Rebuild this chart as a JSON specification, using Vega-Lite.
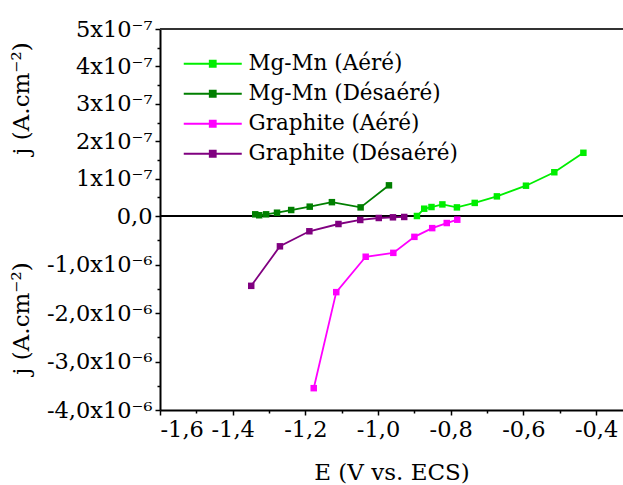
{
  "$schema": "https://vega.github.io/schema/vega-lite/v6.json",
  "autosize": {"type": "pad"},
  "padding": {"left": 10, "top": 18, "right": 0, "bottom": 0},
  "spacing": 0,
  "bounds": "flush",
  "config": {
    "font": "DejaVu Serif",
    "view": {"stroke": null},
    "axis": {
      "labelFont": "DejaVu Serif", "titleFont": "DejaVu Serif",
      "labelFontSize": 22.5, "titleFontSize": 23, "titleFontWeight": "normal",
      "labelColor": "black", "titleColor": "black",
      "domainColor": "black", "tickColor": "black",
      "domainWidth": 2, "tickWidth": 1.5, "tickSize": 5, "grid": false
    },
    "legend": {
      "labelFont": "DejaVu Serif", "labelFontSize": 21.5, "labelColor": "black", "labelLimit": 0
    }
  },
  "datasets": {
    "d": [
      {"s": "Mg-Mn (Désaéré)", "E": -1.338, "j": 4.5e-9},
      {"s": "Mg-Mn (Désaéré)", "E": -1.327, "j": 2e-9},
      {"s": "Mg-Mn (Désaéré)", "E": -1.308, "j": 4.5e-9},
      {"s": "Mg-Mn (Désaéré)", "E": -1.278, "j": 8.8e-9},
      {"s": "Mg-Mn (Désaéré)", "E": -1.239, "j": 1.6e-8},
      {"s": "Mg-Mn (Désaéré)", "E": -1.188, "j": 2.5e-8},
      {"s": "Mg-Mn (Désaéré)", "E": -1.127, "j": 3.7e-8},
      {"s": "Mg-Mn (Désaéré)", "E": -1.048, "j": 2.3e-8},
      {"s": "Mg-Mn (Désaéré)", "E": -0.970, "j": 8.2e-8},
      {"s": "Mg-Mn (Aéré)", "E": -0.893, "j": 0},
      {"s": "Mg-Mn (Aéré)", "E": -0.873, "j": 1.95e-8},
      {"s": "Mg-Mn (Aéré)", "E": -0.853, "j": 2.4e-8},
      {"s": "Mg-Mn (Aéré)", "E": -0.823, "j": 3.1e-8},
      {"s": "Mg-Mn (Aéré)", "E": -0.783, "j": 2.3e-8},
      {"s": "Mg-Mn (Aéré)", "E": -0.734, "j": 3.5e-8},
      {"s": "Mg-Mn (Aéré)", "E": -0.673, "j": 5.25e-8},
      {"s": "Mg-Mn (Aéré)", "E": -0.593, "j": 8.1e-8},
      {"s": "Mg-Mn (Aéré)", "E": -0.515, "j": 1.17e-7},
      {"s": "Mg-Mn (Aéré)", "E": -0.435, "j": 1.69e-7},
      {"s": "Graphite (Aéré)", "E": -1.177, "j": -3.55e-6},
      {"s": "Graphite (Aéré)", "E": -1.115, "j": -1.57e-6},
      {"s": "Graphite (Aéré)", "E": -1.034, "j": -8.4e-7},
      {"s": "Graphite (Aéré)", "E": -0.958, "j": -7.6e-7},
      {"s": "Graphite (Aéré)", "E": -0.900, "j": -4.3e-7},
      {"s": "Graphite (Aéré)", "E": -0.851, "j": -2.5e-7},
      {"s": "Graphite (Aéré)", "E": -0.811, "j": -1.45e-7},
      {"s": "Graphite (Aéré)", "E": -0.782, "j": -7.6e-8},
      {"s": "Graphite (Désaéré)", "E": -1.349, "j": -1.44e-6},
      {"s": "Graphite (Désaéré)", "E": -1.270, "j": -6.25e-7},
      {"s": "Graphite (Désaéré)", "E": -1.189, "j": -3.15e-7},
      {"s": "Graphite (Désaéré)", "E": -1.109, "j": -1.65e-7},
      {"s": "Graphite (Désaéré)", "E": -1.049, "j": -8.2e-8},
      {"s": "Graphite (Désaéré)", "E": -0.998, "j": -4.1e-8},
      {"s": "Graphite (Désaéré)", "E": -0.959, "j": -2.7e-8},
      {"s": "Graphite (Désaéré)", "E": -0.928, "j": -2e-8}
    ]
  },
  "resolve": {"scale": {"y": "independent"}, "legend": {"color": "independent"}},
  "vconcat": [
    {
      "width": 463, "height": 187,
      "data": {"name": "d"},
      "layer": [
        {
          "mark": {"type": "rule", "color": "#333", "strokeWidth": 2},
          "encoding": {
            "y": {"datum": 5e-7, "type": "quantitative",
              "scale": {"domain": [0, 5e-7], "nice": false, "zero": false},
              "axis": {"orient": "left", "values": [5e-8, 1.5e-7, 2.5e-7, 3.5e-7, 4.5e-7], "labels": false, "tickSize": 3, "domain": false, "title": null}}
          }
        },
        {
          "mark": {"type": "rule", "color": "black", "strokeWidth": 1.5},
          "encoding": {"y": {"datum": 0, "type": "quantitative", "axis": null}}
        },
        {
          "transform": [{"filter": "indexof(datum.s, 'Mg-Mn') == 0"}],
          "mark": {"type": "line", "strokeWidth": 1.8, "point": {"shape": "square", "filled": true, "size": 42}},
          "encoding": {
            "x": {"field": "E", "type": "quantitative",
              "scale": {"domain": [-1.6, -0.326], "nice": false, "zero": false},
              "axis": null},
            "y": {"field": "j", "type": "quantitative",
              "scale": {"domain": [0, 5e-7], "nice": false, "zero": false},
              "axis": {"orient": "left", "values": [0, 1e-7, 2e-7, 3e-7, 4e-7, 5e-7],
                "labelExpr": "datum.value == 0 ? '0,0' : round(datum.value * 1e7) + 'x10⁻⁷'",
                "labelPadding": 3, "title": "j (A.cm⁻²)", "titleX": -150, "titleY": 69, "titleBaseline": "top"}},
            "color": {"field": "s", "type": "nominal",
              "scale": {"domain": ["Mg-Mn (Aéré)", "Mg-Mn (Désaéré)", "Graphite (Aéré)", "Graphite (Désaéré)"],
                "range": ["#00ee00", "#007f00", "#ff00ff", "#800080"]},
              "legend": {"orient": "none", "legendX": 42, "legendY": 24, "title": null,
                "symbolType": "M-5.8,0H5.8M-0.6,-0.6H0.6V0.6H-0.6Z", "symbolSize": 100, "symbolStrokeWidth": 1.8,
                "labelOffset": 25, "rowPadding": 7, "padding": 0,
                "encode": {"symbols": {"update": {"fill": {"scale": "color", "field": "value"}}}}}}
          }
        }
      ],
      "resolve": {"axis": {"y": "independent"}}
    },
    {
      "width": 463, "height": 194,
      "data": {"name": "d"},
      "layer": [
        {
          "transform": [{"filter": "indexof(datum.s, 'Graphite') == 0"}],
          "mark": {"type": "point", "opacity": 0},
          "encoding": {
            "x": {"field": "E", "type": "quantitative",
              "scale": {"domain": [-1.6, -0.326], "nice": false, "zero": false},
              "axis": {"orient": "bottom", "values": [-1.5, -1.3, -1.1, -0.9, -0.7, -0.5], "labels": false, "tickSize": 3, "domain": false, "title": null}},
            "y": {"field": "j", "type": "quantitative",
              "scale": {"domain": [-4e-6, 0], "nice": false, "zero": false},
              "axis": {"orient": "left", "values": [-5e-7, -1.5e-6, -2.5e-6, -3.5e-6], "labels": false, "tickSize": 3, "domain": false, "title": null}}
          }
        },
        {
          "transform": [{"filter": "indexof(datum.s, 'Graphite') == 0"}],
          "mark": {"type": "line", "strokeWidth": 1.8, "point": {"shape": "square", "filled": true, "size": 42}},
          "encoding": {
            "x": {"field": "E", "type": "quantitative",
              "scale": {"domain": [-1.6, -0.326], "nice": false, "zero": false},
              "axis": {"orient": "bottom", "values": [-1.6, -1.4, -1.2, -1.0, -0.8, -0.6, -0.4],
                "labelExpr": "replace(replace(format(datum.value, '.1f'), '.', ','), '−', '-')",
                "labelPadding": 3, "title": "E (V vs. ECS)", "titlePadding": 21}},
            "y": {"field": "j", "type": "quantitative",
              "scale": {"domain": [-4e-6, 0], "nice": false, "zero": false},
              "axis": {"orient": "left", "values": [-1e-6, -2e-6, -3e-6, -4e-6],
                "labelExpr": "'-' + round(-datum.value * 1e6) + ',0x10⁻⁶'",
                "labelPadding": 3, "title": "j (A.cm⁻²)", "titleX": -150, "titleY": 102, "titleBaseline": "top"}},
            "color": {"field": "s", "type": "nominal",
              "scale": {"domain": ["Mg-Mn (Aéré)", "Mg-Mn (Désaéré)", "Graphite (Aéré)", "Graphite (Désaéré)"],
                "range": ["#00ee00", "#007f00", "#ff00ff", "#800080"]},
              "legend": null}
          }
        }
      ],
      "resolve": {"axis": {"x": "independent", "y": "independent"}}
    }
  ]
}
